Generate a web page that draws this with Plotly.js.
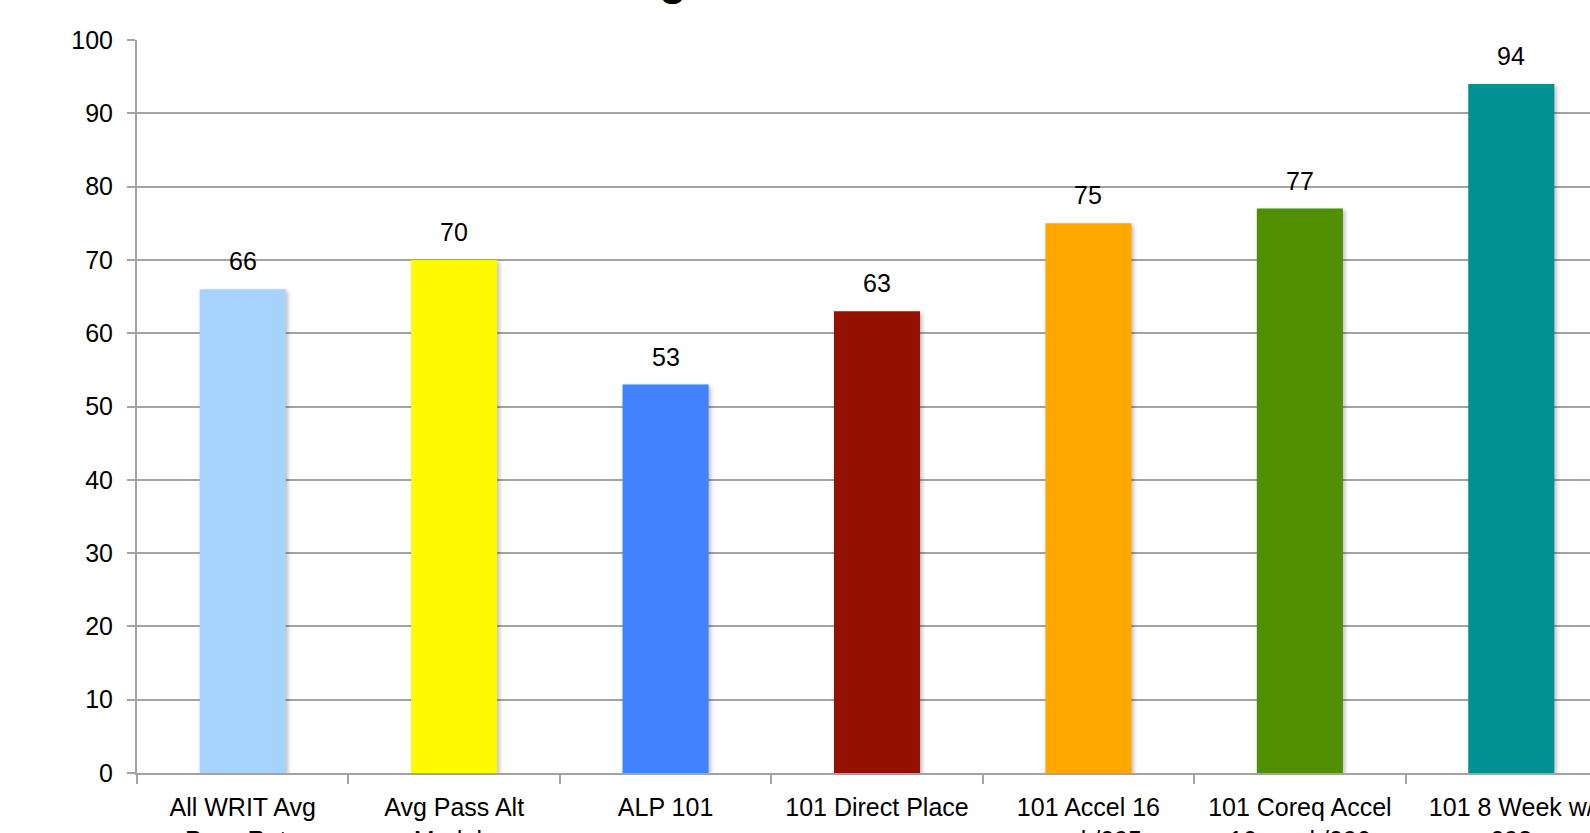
<!DOCTYPE html>
<html>
<head>
<meta charset="utf-8">
<script src="https://cdn.plot.ly/plotly-3.0.1.min.js"></script>
<style>
  html, body { margin: 0; padding: 0; overflow: hidden; background: #fff; }
  #chart { width: 1617px; height: 833px; }
  .bars .point path { filter: drop-shadow(2px 2px 2px rgba(0,0,0,0.28)); }
</style>
</head>
<body>
<div id="chart"></div>
<script>
// Pass rates by writing course placement
const categories = [
  "All WRIT Avg<br>Pass Rate",
  "Avg Pass Alt<br>Models",
  "ALP 101",
  "101 Direct Place",
  "101 Accel 16<br>week/095",
  "101 Coreq Accel<br>16 week/096",
  "101 8 Week w/<br>098"
];
const passRates = [66, 70, 53, 63, 75, 77, 94];
const barColors = ["#a6d3fe", "#fefa00", "#4282fe", "#941100", "#fea800", "#4f8f00", "#009190"];
const yTicks = [0, 10, 20, 30, 40, 50, 60, 70, 80, 90, 100];
const chartTitle = "Pass Rates: Writing";

const gridGray = "#a3a3a3";
const baseFont = { family: "Liberation Sans, Arial, sans-serif", size: 25, color: "#000" };

const trace = {
  type: "bar",
  x: categories,
  y: passRates,
  marker: { color: barColors, line: { width: 0 } },
  hoverinfo: "x+y"
};

// value labels above each bar
const valueLabels = categories.map((c, i) => ({
  x: c, y: passRates[i], xref: "x", yref: "y",
  text: String(passRates[i]),
  showarrow: false, yanchor: "bottom", yshift: 12,
  font: baseFont
}));

// chart heading sits above the top edge of the page
const heading = {
  x: (688 - 137) / 1480, y: 1, xref: "paper", yref: "paper",
  xanchor: "right", yanchor: "bottom", yshift: 34,
  text: "<b>" + chartTitle + "</b>",
  showarrow: false,
  font: { family: "Liberation Sans, Arial, sans-serif", size: 44, color: "#000" }
};

const layout = {
  width: 1617,
  height: 833,
  margin: { l: 137, r: 0, t: 40, b: 60 },
  paper_bgcolor: "#fff",
  plot_bgcolor: "#fff",
  font: baseFont,
  showlegend: false,
  bargap: 0.593,
  xaxis: {
    type: "category",
    range: [-0.5, 6.5],
    showline: true, linecolor: gridGray, linewidth: 2,
    ticks: "outside", tickson: "boundaries", ticklen: 9, tickwidth: 2, tickcolor: gridGray,
    showgrid: false,
    tickfont: baseFont,
    ticklabelstandoff: 11,
    fixedrange: true
  },
  yaxis: {
    range: [0, 100],
    tickvals: yTicks,
    ticktext: yTicks.map(String),
    showline: true, linecolor: gridGray, linewidth: 2,
    ticks: "outside", ticklen: 8, tickwidth: 2, tickcolor: gridGray,
    showgrid: true, gridcolor: gridGray, gridwidth: 2,
    zeroline: false,
    tickfont: baseFont,
    ticklabelstandoff: 9,
    fixedrange: true
  },
  annotations: valueLabels.concat([heading])
};

Plotly.newPlot("chart", [trace], layout, { displayModeBar: false, staticPlot: true });
</script>
</body>
</html>
